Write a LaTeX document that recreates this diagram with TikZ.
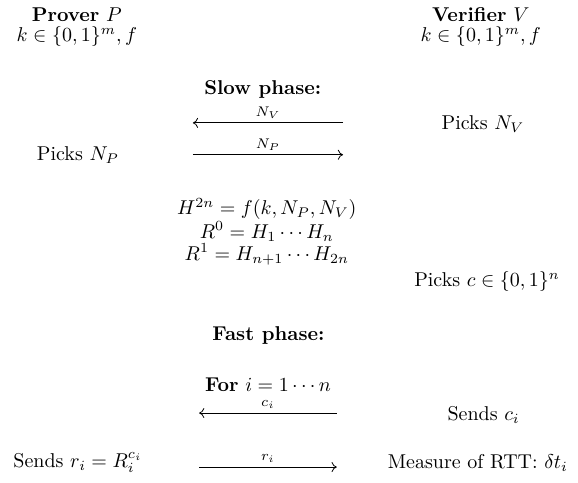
\documentclass[tikz,border=0pt]{standalone}
\usepackage{amsmath,amssymb}
\usetikzlibrary{arrows.meta}
\begin{document}
\begin{tikzpicture}[every node/.style={inner sep=0pt},
  msg/.style={-{To[length=2.6pt,width=5pt]}},
  lbl/.style={above,inner sep=2pt,font=\scriptsize}]
\useasboundingbox (0,0) rectangle (10.16,-8.49);
% parties
\node (prover) at (1.35,-0.26) {\textbf{Prover} $P$};
\node (pkey) at (1.35,-0.65) {$k\in\{0,1\}^m, f$};
\node (verifier) at (8.45,-0.26) {\textbf{Verifier} $V$};
\node (vkey) at (8.45,-0.65) {$k\in\{0,1\}^m, f$};
% slow phase
\node (slow) at (4.62,-1.58) {\textbf{Slow phase:}};
\node (picknv) at (8.49,-2.18) {Picks $N_V$};
\node (picknp) at (1.37,-2.72) {Picks $N_P$};
\coordinate (nvs) at (6.03,-2.16);
\coordinate (nve) at (3.39,-2.16);
\coordinate (nps) at (3.39,-2.72);
\coordinate (npe) at (6.03,-2.72);
\draw[msg] (nvs) -- (nve) node[lbl,midway] {$N_V$};
\draw[msg] (nps) -- (npe) node[lbl,midway] {$N_P$};
\node (hash) at (4.69,-3.68) {$H^{2n}=f(k,N_P,N_V)$};
\node (rzero) at (4.69,-4.07) {$R^0=H_1\cdots H_n$};
\node (rone) at (4.69,-4.47) {$R^1=H_{n+1}\cdots H_{2n}$};
\node (pickc) at (8.56,-4.95) {Picks $c\in\{0,1\}^n$};
% fast phase
\node (fast) at (4.72,-5.89) {\textbf{Fast phase:}};
\node (loop) at (4.71,-6.77) {\textbf{For} $i=1\cdots n$};
\node (sendc) at (8.50,-7.29) {Sends $c_i$};
\node (sendr) at (1.37,-8.13) {Sends $r_i=R_i^{c_i}$};
\node (rtt) at (8.40,-8.13) {Measure of RTT: $\delta t_i$};
\coordinate (cs) at (5.92,-7.26);
\coordinate (ce) at (3.50,-7.26);
\coordinate (rs) at (3.50,-8.21);
\coordinate (re) at (5.92,-8.21);
\draw[msg] (cs) -- (ce) node[lbl,midway] {$c_i$};
\draw[msg] (rs) -- (re) node[lbl,midway] {$r_i$};
\end{tikzpicture}
\end{document}
